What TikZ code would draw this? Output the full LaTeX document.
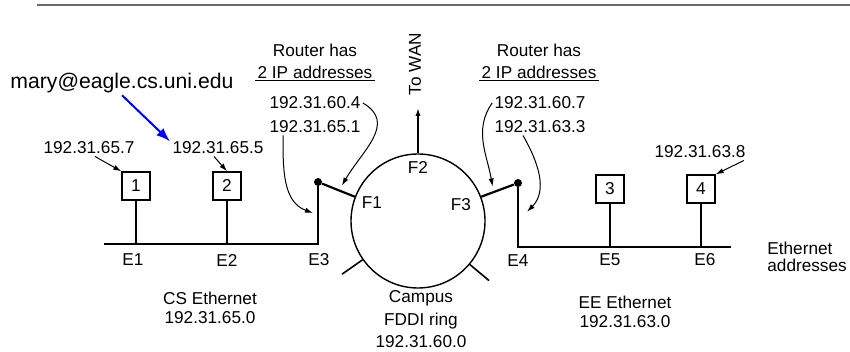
\documentclass[tikz,border=0pt]{standalone}
\usepackage{fontspec}
\setmainfont{Liberation Sans}
\usetikzlibrary{positioning,calc,arrows.meta}
\definecolor{rulegray}{RGB}{105,105,105}
\definecolor{mailblue}{RGB}{0,0,255}

\begin{document}
\begin{tikzpicture}[x=0.5pt,y=0.5pt,
  lbl/.style={font=\fontsize{8.6}{10}\selectfont, inner sep=1pt},
  host/.style={draw, line width=0.7pt, minimum size=14pt, inner sep=0pt, font=\fontsize{8.6}{10}\selectfont},
  lan/.style={line width=1.1pt},
  ptr/.style={line width=0.5pt, -{Latex[length=4pt,width=2.6pt]}},
  dot/.style={circle, fill, inner sep=0pt, minimum size=4pt}]
	\useasboundingbox (0,0) rectangle (850,352);
	% rule at the top of the page
	\draw[rulegray, line width=1.2pt] (37,347) -- (850,347);
	
	% FDDI ring with stations F1, F2, F3
	\node[circle, draw, line width=0.7pt, minimum size=67pt, inner sep=0pt] (ring) at (418,131) {};
	\draw[line width=0.8pt] (ring.215) -- ++(215:25);
	\draw[line width=0.8pt] (ring.320) -- ++(320:25);
	\node[lbl] (f1) at (372,149) {F1};
	\node[lbl] (f2) at (418,184) {F2};
	\node[lbl] (f3) at (461,147) {F3};
	\coordinate (wan) at (418,244);
	\draw[line width=0.8pt, -{Latex[length=4pt,width=2.6pt]}] (ring.90) -- (wan);
	\node[lbl, rotate=90] (wantxt) at (415,288) {To WAN};
	
	% routers
	\node[dot] (r1) at (318,170) {};
	\node[dot] (r2) at (518,169) {};
	\draw[lan] (r1) -- (ring.159);
	\draw[lan] (r2) -- (ring.21);
	
	% CS Ethernet
	\coordinate (csw) at (104,108);
	\draw[lan] (csw) -- (csw -| r1) -- (r1);
	\node[host] (h1) at (136,166) {1};
	\node[host] (h2) at (227,166) {2};
	\draw[lan] (h1) -- (h1 |- csw);
	\draw[lan] (h2) -- (h2 |- csw);
	
	% EE Ethernet
	\coordinate (eee) at (731,105);
	\draw[lan] (r2) -- (r2 |- eee) -- (eee);
	\node[host] (h3) at (610,163) {3};
	\node[host] (h4) at (701,163) {4};
	\draw[lan] (h3) -- (h3 |- eee);
	\draw[lan] (h4) -- (h4 |- eee);
	
	% Ethernet addresses
	\node[lbl] (e1) at (133,92) {E1};
	\node[lbl] (e2) at (227,92) {E2};
	\node[lbl] (e3) at (319,92) {E3};
	\node[lbl] (e4) at (518,91) {E4};
	\node[lbl] (e5) at (610,92) {E5};
	\node[lbl] (e6) at (705,92) {E6};
	\node[lbl, anchor=west] (eth) at (765,104) {Ethernet};
	\node[lbl, anchor=west] (ethaddr) at (765,87) {addresses};
	
	% network names
	\node[lbl] (csnet) at (210,54) {CS Ethernet};
	\node[lbl] (csip) at (210,34) {192.31.65.0};
	\node[lbl] (campus) at (421,54) {Campus};
	\node[lbl] (fddi) at (421,31) {FDDI ring};
	\node[lbl] (fddiip) at (421,10) {192.31.60.0};
	\node[lbl] (eenet) at (625,50) {EE Ethernet};
	\node[lbl] (eeip) at (625,30) {192.31.63.0};
	
	% host IP addresses
	\node[lbl] (ipa) at (89,204) {192.31.65.7};
	\node[lbl] (ipb) at (218,204) {192.31.65.5};
	\node[lbl] (ipd) at (700,200) {192.31.63.8};
	\draw[ptr] ([xshift=3pt]ipa.south) -- (h1.north west);
	\draw[ptr] ([xshift=-2pt]ipb.south) -- (h2.north);
	\draw[ptr] ([xshift=-2pt]ipd.south east) -- (h4.north east);
	
	% left router
	\node[lbl] (rlh) at (315,302) {Router has};
	\node[lbl] (rlu) at (315,280) {2 IP addresses};
	\draw[line width=0.7pt] (rlu.south west) -- (rlu.south east);
	\node[lbl] (rla) at (315,249) {192.31.60.4};
	\node[lbl] (rlb) at (315,225) {192.31.65.1};
	\coordinate (t1) at ($(r1)!0.65!(ring.159)+(0,6)$);
	\coordinate (t2) at ($(r1 |- csw)!0.5!(r1)+(-5,0)$);
	\draw[ptr] (rla.east) to[out=-30,in=60,looseness=1.2] (t1);
	\draw[ptr] ([xshift=-16pt]rlb.south) to[out=-90,in=160] (t2);
	
	% right router
	\node[lbl] (rrh) at (539,302) {Router has};
	\node[lbl] (rru) at (539,280) {2 IP addresses};
	\draw[line width=0.7pt] (rru.south west) -- (rru.south east);
	\node[lbl] (rra) at (540,249) {192.31.60.7};
	\node[lbl] (rrb) at (540,225) {192.31.63.3};
	\coordinate (t3) at ($(r2)!0.69!(ring.21)+(0,6)$);
	\coordinate (t4) at ($(r2 |- eee)!0.55!(r2)+(9,0)$);
	\draw[ptr] (rra.west) to[out=235,in=100] (t3);
	\draw[ptr] ([xshift=-8.5pt]rrb.south) to[out=-60,in=45] (t4);
	
	% mail address
	\node[anchor=west, inner sep=1pt, font=\fontsize{10.6}{12}\selectfont] (mary) at (8,269) {mary@eagle.cs.uni.edu};
	\draw[mailblue, line width=1pt, -{Latex[length=7pt,width=5pt]}] ([xshift=57pt]mary.south west) -- ([yshift=-1pt]ipb.north west);
\end{tikzpicture}
\end{document}
